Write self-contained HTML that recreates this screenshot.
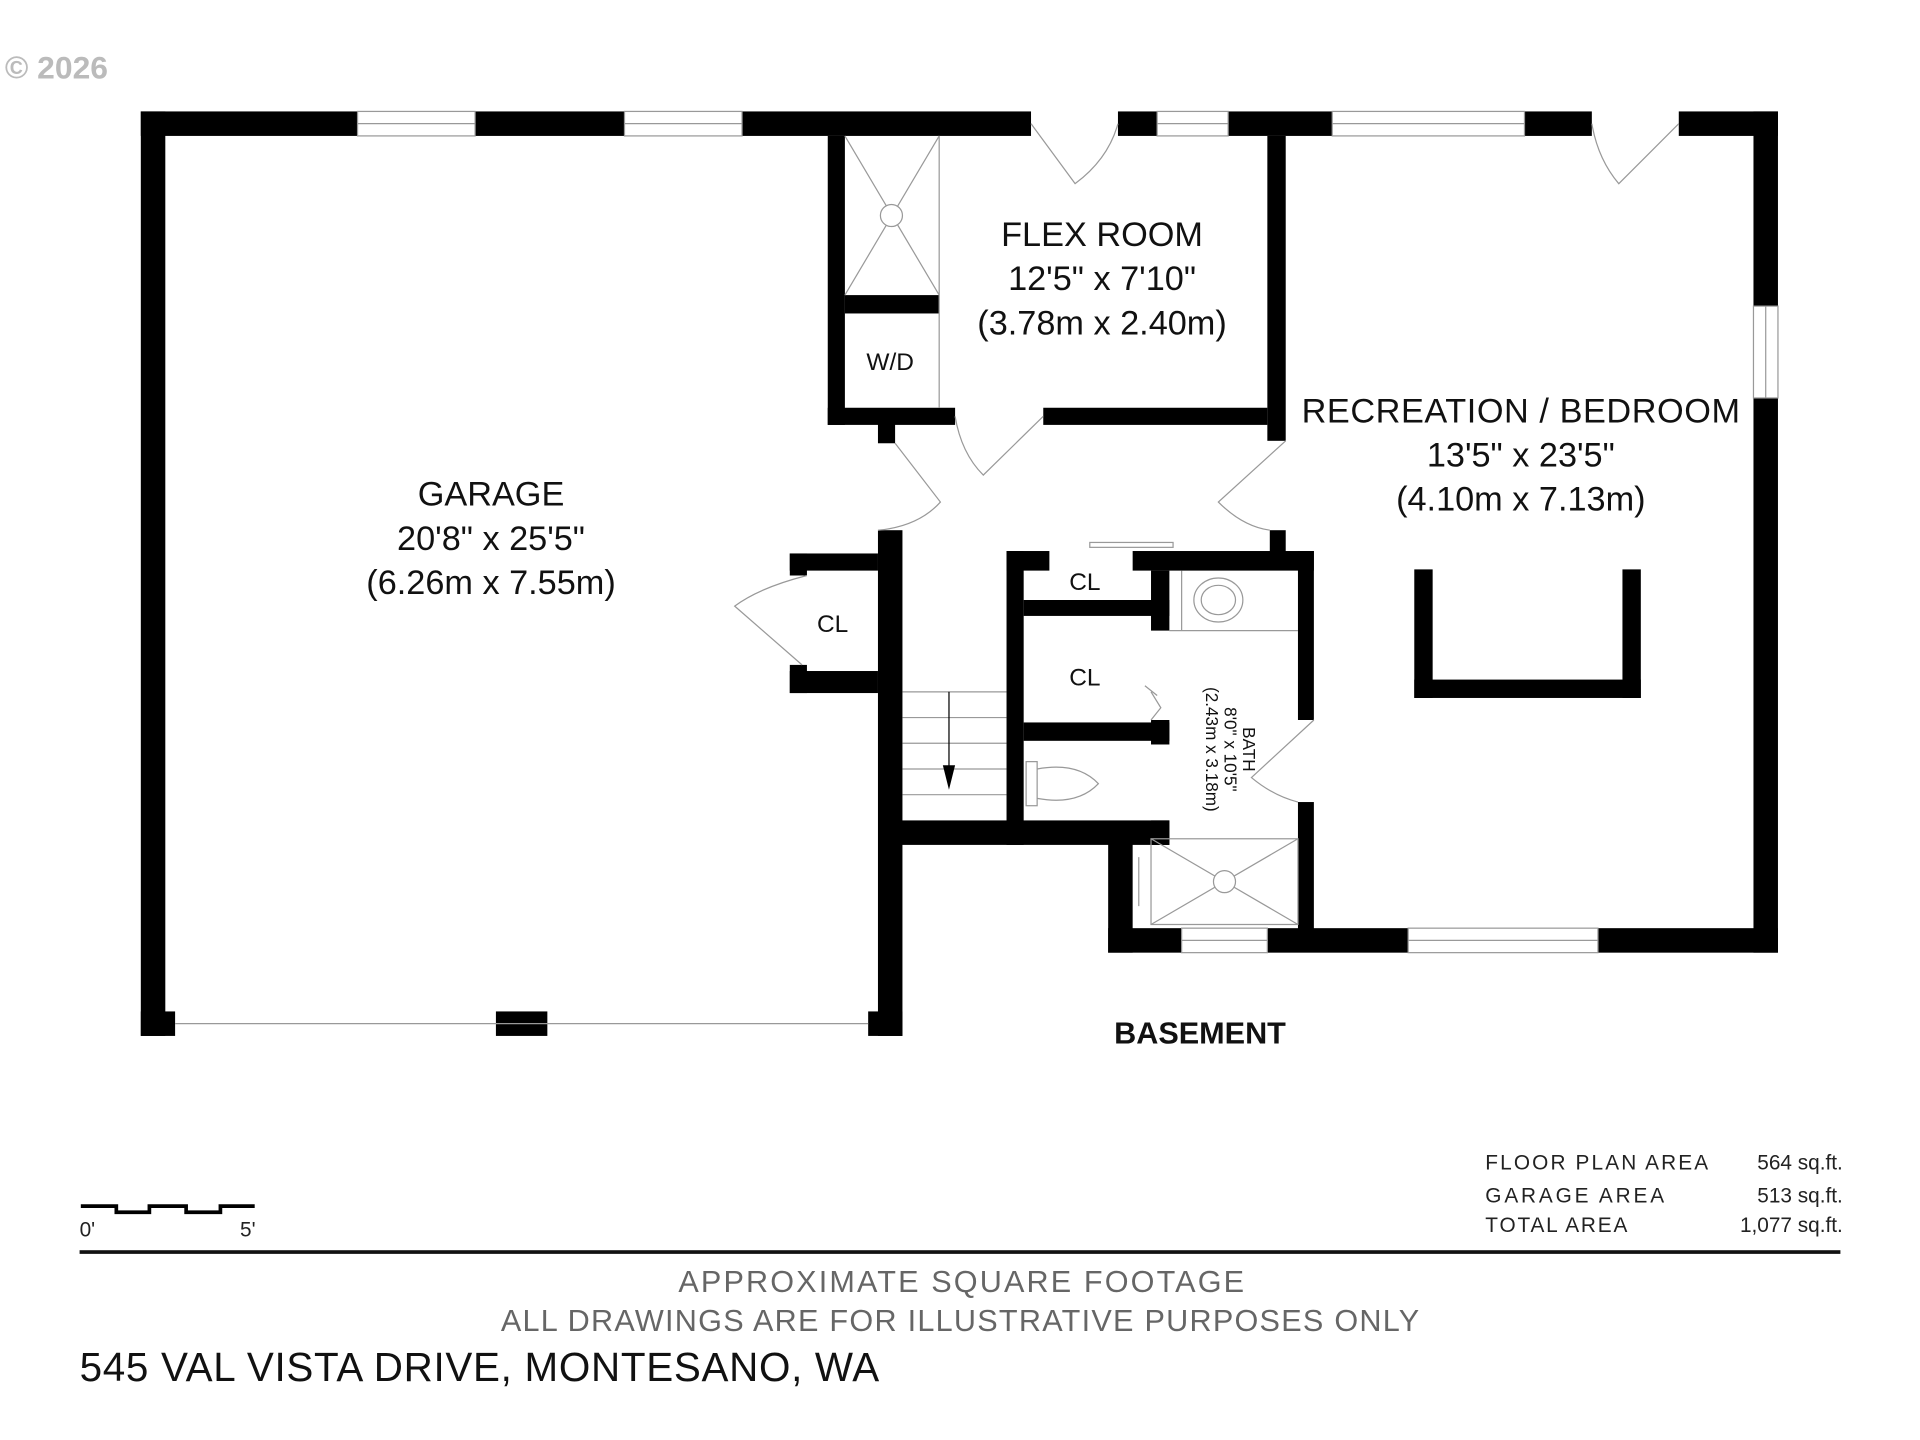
<!DOCTYPE html>
<html><head><style>html,body{margin:0;padding:0;background:#fff}svg{display:block}</style></head>
<body>
<svg width="1920" height="1440" viewBox="0 0 1568 1176" xmlns="http://www.w3.org/2000/svg" font-family="Liberation Sans, sans-serif">
<rect width="1568" height="1176" fill="#fff"/>
<text x="4" y="64" font-size="26" fill="#bbb" font-weight="bold">© 2026</text>
<g fill="#000">
<rect x="115" y="91" width="177" height="20"/><rect x="388" y="91" width="122" height="20"/>
<rect x="606" y="91" width="236" height="20"/><rect x="913" y="91" width="32" height="20"/>
<rect x="1003" y="91" width="85" height="20"/><rect x="1245" y="91" width="55" height="20"/>
<rect x="1371" y="91" width="81" height="20"/>
<rect x="115" y="91" width="20" height="755"/><rect x="115" y="826" width="28" height="20"/>
<rect x="405" y="826" width="42" height="20"/><rect x="709" y="826" width="28" height="20"/>
<rect x="1432" y="91" width="20" height="159"/><rect x="1432" y="325" width="20" height="453"/>
<rect x="905" y="758" width="60" height="20"/><rect x="1035" y="758" width="115" height="20"/>
<rect x="1305" y="758" width="147" height="20"/>
<rect x="717" y="433" width="20" height="413"/><rect x="717" y="345" width="14" height="17"/>
<rect x="676" y="111" width="14" height="236"/><rect x="676" y="333" width="104" height="14"/>
<rect x="690" y="241" width="77" height="15"/>
<rect x="1035" y="111" width="15" height="249"/><rect x="852" y="333" width="183" height="14"/>
<rect x="1037" y="433" width="13" height="27"/>
<rect x="645" y="452" width="72" height="14"/><rect x="645" y="452" width="14" height="18"/>
<rect x="645" y="548" width="72" height="18"/><rect x="645" y="543" width="14" height="23"/>
<rect x="822" y="450" width="14" height="240"/>
<rect x="822" y="450" width="35" height="16"/><rect x="925" y="450" width="148" height="16"/>
<rect x="1060" y="450" width="13" height="138"/><rect x="1060" y="655" width="13" height="110"/>
<rect x="940" y="466" width="15" height="49"/><rect x="836" y="490" width="119" height="13"/>
<rect x="836" y="590" width="119" height="15"/><rect x="940" y="588" width="15" height="20"/>
<rect x="730" y="670" width="225" height="20"/>
<rect x="905" y="685" width="20" height="93"/><rect x="940" y="670" width="15" height="20"/>
<rect x="1155" y="465" width="15" height="105"/><rect x="1325" y="465" width="15" height="105"/>
<rect x="1155" y="555" width="185" height="15"/>
</g>
<g fill="none" stroke="#999" stroke-width="1">
<rect x="292" y="91" width="96" height="20"/><line x1="292" y1="101" x2="388" y2="101"/>
<rect x="510" y="91" width="96" height="20"/><line x1="510" y1="101" x2="606" y2="101"/>
<rect x="945" y="91" width="58" height="20"/><line x1="945" y1="101" x2="1003" y2="101"/>
<rect x="1088" y="91" width="157" height="20"/><line x1="1088" y1="101" x2="1245" y2="101"/>
<rect x="1432" y="250" width="20" height="75"/><line x1="1442" y1="250" x2="1442" y2="325"/>
<rect x="965" y="758" width="70" height="20"/><line x1="965" y1="768" x2="1035" y2="768"/>
<rect x="1150" y="758" width="155" height="20"/><line x1="1150" y1="768" x2="1305" y2="768"/>
<line x1="143" y1="836" x2="709" y2="836"/>
<line x1="767" y1="111" x2="767" y2="333"/><line x1="690" y1="111" x2="767" y2="241"/><line x1="767" y1="111" x2="690" y2="241"/>
<circle cx="728" cy="176" r="9" fill="#fff"/>
<path d="M842 101 L878 150 Q905 130 913 101"/>
<path d="M1371 101 L1322 150 Q1305 130 1300 101"/>
<path d="M852 340 L803 388 Q785 370 780 340"/>
<path d="M731 362 L768 410 Q750 430 717 433"/>
<path d="M1050 360 L995 410 Q1015 430 1037 433"/>
<path d="M659 470 Q620 480 600 495 L655 543"/>
<path d="M1073 588 L1022 635 Q1040 650 1060 655"/>
<path d="M940 588 L948 578 L940 565 M935 560 L945 568"/>
<rect x="890" y="443" width="68" height="4"/>
<line x1="965" y1="466" x2="965" y2="515"/><line x1="955" y1="515" x2="1060" y2="515"/>
<ellipse cx="995" cy="490" rx="20" ry="18"/><ellipse cx="995" cy="490" rx="14" ry="12"/>
<rect x="838" y="622" width="9" height="36"/><path d="M847 628 Q880 622 897 640 Q880 658 847 652"/>
<rect x="940" y="685" width="120" height="70"/><line x1="940" y1="685" x2="1060" y2="755"/><line x1="1060" y1="685" x2="940" y2="755"/>
<circle cx="1000" cy="720" r="9" fill="#fff"/><line x1="930" y1="700" x2="930" y2="740"/>
<line x1="737" y1="565" x2="822" y2="565"/><line x1="737" y1="586" x2="822" y2="586"/>
<line x1="737" y1="607" x2="822" y2="607"/><line x1="737" y1="628" x2="822" y2="628"/>
<line x1="737" y1="649" x2="822" y2="649"/><line x1="775" y1="565" x2="775" y2="640" stroke="#000"/>
</g>
<polygon points="770,625 780,625 775,645" fill="#000"/>
<g fill="#111" text-anchor="middle" font-size="28">
<text x="401" y="413">GARAGE</text><text x="401" y="449">20'8" x 25'5"</text><text x="401" y="485">(6.26m x 7.55m)</text>
<text x="900" y="201">FLEX ROOM</text><text x="900" y="237">12'5" x 7'10"</text><text x="900" y="273">(3.78m x 2.40m)</text>
<text x="1242" y="345" textLength="358">RECREATION / BEDROOM</text><text x="1242" y="381">13'5" x 23'5"</text><text x="1242" y="417">(4.10m x 7.13m)</text>
<g font-size="20"><text x="727" y="302">W/D</text><text x="680" y="516">CL</text><text x="886" y="482">CL</text><text x="886" y="560">CL</text></g>
<g font-size="14" transform="translate(1015,612) rotate(90)"><text x="0" y="0">BATH</text><text x="0" y="15">8'0" x 10'5"</text><text x="0" y="30">(2.43m x 3.18m)</text></g>
<text x="980" y="852" font-size="25" font-weight="bold">BASEMENT</text>
</g>
<g font-size="17" fill="#222">
<text x="1213" y="955" textLength="182">FLOOR PLAN AREA</text><text x="1505" y="955" text-anchor="end">564 sq.ft.</text>
<text x="1213" y="982" textLength="146">GARAGE AREA</text><text x="1505" y="982" text-anchor="end">513 sq.ft.</text>
<text x="1213" y="1006" textLength="116">TOTAL AREA</text><text x="1505" y="1006" text-anchor="end">1,077 sq.ft.</text>
<text x="65" y="1010">0'</text><text x="196" y="1010">5'</text>
</g>
<path d="M66 985 H95 V990 H122 V985 H152 V990 H180 V985 H208" stroke="#000" stroke-width="3" fill="none"/>
<rect x="65" y="1021" width="1438" height="3" fill="#111"/>
<g fill="#666" font-size="25"><text x="554" y="1055" textLength="462">APPROXIMATE SQUARE FOOTAGE</text><text x="409" y="1087" textLength="750">ALL DRAWINGS ARE FOR ILLUSTRATIVE PURPOSES ONLY</text></g>
<text x="65" y="1128" font-size="33" fill="#111" textLength="653">545 VAL VISTA DRIVE, MONTESANO, WA</text>
</svg>
</body></html>
